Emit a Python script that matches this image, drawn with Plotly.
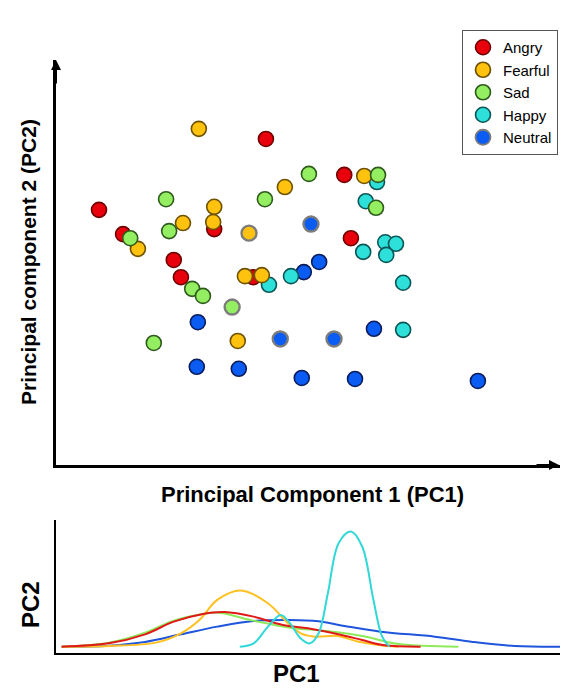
import plotly.graph_objects as go

# ---------------- data (PC scores) ----------------
categories = ["Angry", "Fearful", "Sad", "Happy", "Neutral"]

angry_pc1 = [-3.16, -2.69, -0.91, -1.70, -1.56, 0.10, 1.63, 1.76, -0.15]
angry_pc2 = [1.04, 0.56, 0.66, 0.05, -0.29, 2.44, 1.73, 0.48, -0.29]

fearful_pc1 = [-1.21, -0.91, -0.93, -1.52, -2.40, -0.31, 0.02, -0.23, 0.47, 2.02, -0.45]
fearful_pc2 = [2.64, 1.10, 0.80, 0.78, 0.27, -0.27, -0.25, 0.58, 1.49, 1.71, -1.55]

sad_pc1 = [-1.85, -2.55, -1.79, -1.34, -1.13, -0.56, -2.09, 0.94, 2.29, 0.08, 2.25]
sad_pc2 = [1.25, 0.48, 0.62, -0.52, -0.66, -0.88, -1.59, 1.75, 1.73, 1.25, 1.08]

happy_pc1 = [2.27, 2.05, 2.43, 2.64, 2.45, 2.00, 0.59, 0.16, 2.78, 2.78]
happy_pc2 = [1.59, 1.21, 0.40, 0.37, 0.15, 0.21, -0.27, -0.44, -0.40, -1.33]

neutral_pc1 = [0.98, 1.14, 0.84, -1.23, 0.38, 1.43, 2.21, -1.25, -0.43, 0.80, 1.84, 4.24]
neutral_pc2 = [0.76, 0.01, -0.19, -1.18, -1.51, -1.51, -1.31, -2.06, -2.10, -2.28, -2.30, -2.34]

# density curves along PC1
angry_dx = [-3.89, -2.97, -2.26, -1.70, -1.13, -0.71, -0.14, 0.43, 0.92, 1.49, 1.98, 2.41, 3.12]
angry_dy = [0.0, 0.029, 0.107, 0.217, 0.284, 0.301, 0.261, 0.188, 0.159, 0.110, 0.058, 0.012, 0.0]

fearful_dx = [-3.89, -2.97, -2.05, -1.56, -1.20, -0.85, -0.39, 0.14, 0.50, 0.78, 1.06, 1.49, 1.91, 2.55, 2.69]
fearful_dy = [0.0, 0.006, 0.035, 0.116, 0.232, 0.406, 0.487, 0.377, 0.217, 0.116, 0.087, 0.093, 0.043, 0.003, 0.0]

sad_dx = [-3.89, -2.97, -2.26, -1.70, -1.13, -0.85, -0.14, 0.57, 1.28, 1.98, 2.69, 3.86]
sad_dy = [0.0, 0.035, 0.122, 0.226, 0.284, 0.296, 0.226, 0.165, 0.136, 0.093, 0.023, 0.0]

happy_dx = [-0.41, -0.14, 0.14, 0.39, 0.57, 0.78, 0.96, 1.13, 1.31, 1.52, 1.76, 1.98, 2.20, 2.37, 2.51]
happy_dy = [0.0, 0.029, 0.174, 0.275, 0.203, 0.072, 0.029, 0.116, 0.464, 0.899, 1.0, 0.870, 0.406, 0.087, 0.0]

neutral_dx = [-3.89, -2.97, -2.26, -1.56, -0.85, -0.14, 0.57, 1.13, 1.63, 2.34, 3.40, 4.11, 4.96, 6.0]
neutral_dy = [0.0, 0.009, 0.041, 0.107, 0.174, 0.223, 0.232, 0.220, 0.180, 0.130, 0.087, 0.043, 0.006, 0.0]

# points that appear with a soft grey halo in the original figure (indices)
halo_points = {"Fearful": [7], "Sad": [5], "Neutral": [0, 4, 5]}

# ---------------- styles ----------------
fill = {"Angry": "#e8000c", "Fearful": "#ffc20e", "Sad": "#94ee62",
        "Happy": "#2ee0da", "Neutral": "#0a5cf2"}
edge = {"Angry": "#6e0000", "Fearful": "#6e5200", "Sad": "#2e5a1c",
        "Happy": "#0b5656", "Neutral": "#0a1c5c"}
linec = {"Angry": "#e01818", "Fearful": "#ffc020", "Sad": "#8eea5a",
         "Happy": "#30d8d8", "Neutral": "#1f55dd"}

scatter = {
    "Angry": (angry_pc1, angry_pc2),
    "Fearful": (fearful_pc1, fearful_pc2),
    "Sad": (sad_pc1, sad_pc2),
    "Happy": (happy_pc1, happy_pc2),
    "Neutral": (neutral_pc1, neutral_pc2),
}
density = {
    "Angry": (angry_dx, angry_dy),
    "Fearful": (fearful_dx, fearful_dy),
    "Sad": (sad_dx, sad_dy),
    "Happy": (happy_dx, happy_dy),
    "Neutral": (neutral_dx, neutral_dy),
}

fig = go.Figure()
draw_order = ["Neutral", "Happy", "Angry", "Fearful", "Sad"]
for name in draw_order:
    xs, ys = scatter[name]
    halos = halo_points.get(name, [])
    lcols = ["#7c7c7c" if i in halos else edge[name] for i in range(len(xs))]
    lwid = [2.4 if i in halos else 1.6 for i in range(len(xs))]
    fig.add_trace(go.Scatter(
        x=xs, y=ys, mode="markers", name=name,
        legendrank=categories.index(name) + 1,
        marker=dict(size=15, color=fill[name],
                    line=dict(color=lcols, width=lwid)),
        xaxis="x", yaxis="y"))

dens_order = ["Neutral", "Sad", "Fearful", "Angry", "Happy"]
for name in dens_order:
    xs, ys = density[name]
    fig.add_trace(go.Scatter(
        x=xs, y=ys, mode="lines", showlegend=False,
        line=dict(color=linec[name], width=2, shape="spline", smoothing=1.0),
        xaxis="x2", yaxis="y2"))

# the page body adds an 8px margin on every side; fit the figure inside it
OFF = 8
W, H = 568 - 2 * OFF, 695 - 2 * OFF
l_m, t_m = 56 - OFF, 60 - OFF
plot_bottom = 653 - OFF
b_m = H - plot_bottom
ph = H - t_m - b_m
pw = W - l_m
px_per_unit = 51.2
x_hi = -4 + pw / px_per_unit
main_bottom = (653 - 465) / ph
low_top = (653 - 520) / ph

axis_common = dict(showgrid=False, zeroline=False, showticklabels=False,
                   ticks="", showline=True, linecolor="black")

fig.update_layout(
    width=W, height=H,
    margin=dict(l=l_m, r=0, t=t_m, b=b_m),
    paper_bgcolor="white", plot_bgcolor="white",
    font=dict(family="Liberation Sans, Arial, sans-serif", color="black"),
    xaxis=dict(domain=[0, 1], range=[-4, x_hi], anchor="y", linewidth=2.5, **axis_common),
    yaxis=dict(domain=[main_bottom, 1], range=[-4, 4], anchor="x", linewidth=2.5, **axis_common),
    xaxis2=dict(domain=[0, 1], range=[-4, x_hi], anchor="y2", linewidth=2, **axis_common),
    yaxis2=dict(domain=[0, low_top], range=[-0.055, 1.10], anchor="x2", linewidth=2, **axis_common),
    showlegend=True,
    legend=dict(x=(462 - 56) / pw, y=(653 - 30) / ph, xanchor="left", yanchor="top",
                bordercolor="#555555", borderwidth=1, bgcolor="white",
                font=dict(size=15, family="Liberation Sans, Arial, sans-serif"),
                itemsizing="trace"),
)

def ann_px(text, cx, cy, size, angle=0):
    fig.add_annotation(text=f"<b>{text}</b>", xref="paper", yref="paper",
                       x=(cx - 56) / pw, y=(653 - cy) / ph,
                       xanchor="center", yanchor="middle", showarrow=False,
                       textangle=angle, font=dict(size=size, color="black"))

ann_px("Principal Component 1 (PC1)", 312, 494, 22)
ann_px("Principal component 2 (PC2)", 28, 262, 21, -90)
ann_px("PC1", 296, 673, 24)
ann_px("PC2", 30, 605, 24, -90)

# axis arrows
fig.add_annotation(text="", xref="paper", yref="paper", x=0, y=1, ax=0, ay=25,
                   showarrow=True, arrowhead=2, arrowsize=1, arrowwidth=2, arrowcolor="black")
fig.add_annotation(text="", xref="paper", yref="paper", x=1, y=main_bottom, ax=-25, ay=0,
                   showarrow=True, arrowhead=2, arrowsize=1, arrowwidth=2, arrowcolor="black")

fig.write_html("out.html")
